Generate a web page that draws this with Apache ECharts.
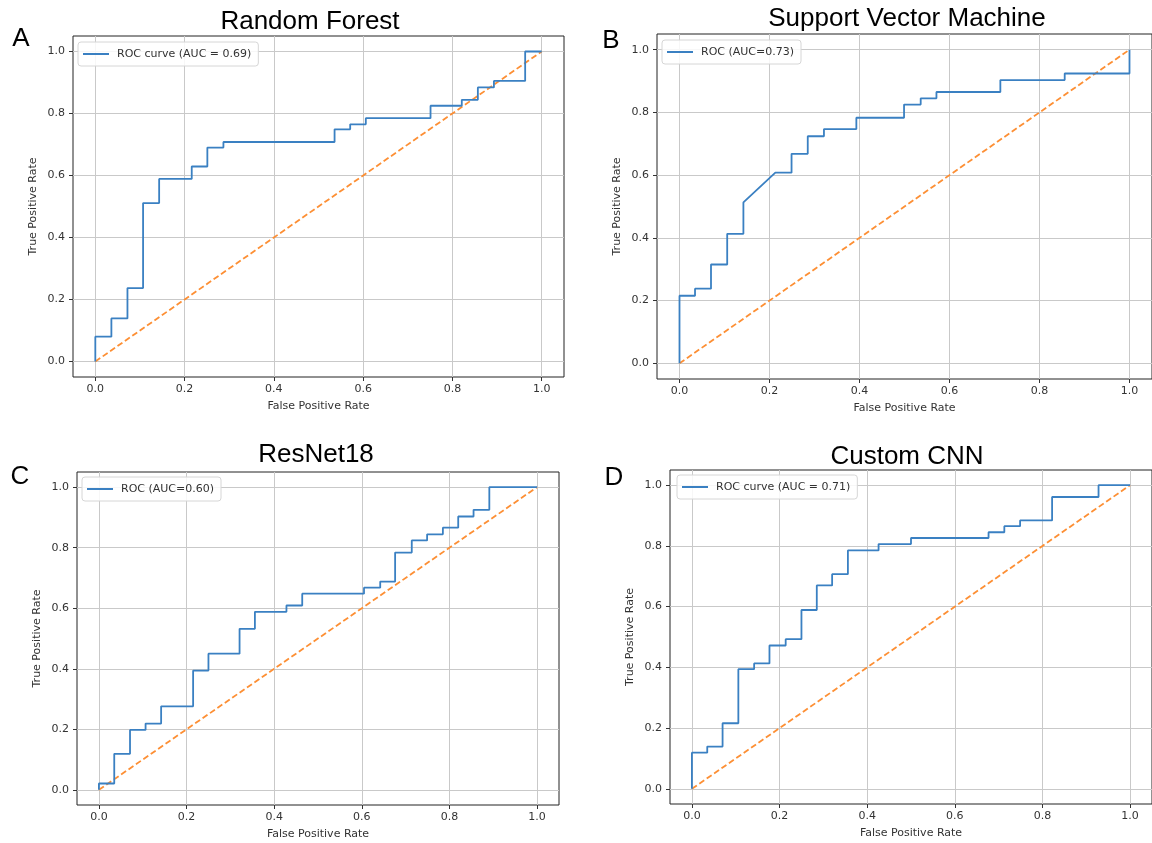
<!DOCTYPE html>
<html>
<head>
<meta charset="utf-8">
<script src="https://cdn.jsdelivr.net/npm/echarts@6/dist/echarts.min.js"></script>
<style>
  html, body { margin: 0; padding: 0; background: #fff; }
  #main { width: 1152px; height: 843px; }
</style>
</head>
<body>
<div id="main"></div>
<script>
// 面板标题
var panelTitles = ['Random Forest', 'Support Vector Machine', 'ResNet18', 'Custom CNN'];
var panelLetters = ['A', 'B', 'C', 'D'];
var legendNames = ['ROC curve (AUC = 0.69)', 'ROC (AUC=0.73)', 'ROC (AUC=0.60)', 'ROC curve (AUC = 0.71)'];
var tickValues = [0, 0.2, 0.4, 0.6, 0.8, 1.0];

// A - Random Forest
var rfFpr = [0, 0, 0.036, 0.036, 0.072, 0.072, 0.107, 0.107, 0.143, 0.143, 0.216, 0.216, 0.251, 0.251, 0.287, 0.287, 0.536, 0.536, 0.571, 0.571, 0.606, 0.606, 0.751, 0.751, 0.821, 0.821, 0.857, 0.857, 0.893, 0.893, 0.963, 0.963, 1.0];
var rfTpr = [0, 0.08, 0.08, 0.139, 0.139, 0.237, 0.237, 0.511, 0.511, 0.589, 0.589, 0.629, 0.629, 0.690, 0.690, 0.708, 0.708, 0.749, 0.749, 0.765, 0.765, 0.785, 0.785, 0.825, 0.825, 0.844, 0.844, 0.884, 0.884, 0.905, 0.905, 1.0, 1.0];

// B - SVM
var svmFpr = [0, 0, 0.0345, 0.0345, 0.070, 0.070, 0.106, 0.106, 0.142, 0.142, 0.213, 0.249, 0.249, 0.285, 0.285, 0.321, 0.321, 0.393, 0.393, 0.499, 0.499, 0.536, 0.536, 0.571, 0.571, 0.713, 0.713, 0.856, 0.856, 1.0, 1.0];
var svmTpr = [0, 0.2155, 0.2155, 0.238, 0.238, 0.315, 0.315, 0.413, 0.413, 0.513, 0.608, 0.608, 0.668, 0.668, 0.724, 0.724, 0.747, 0.747, 0.783, 0.783, 0.825, 0.825, 0.845, 0.845, 0.865, 0.865, 0.903, 0.903, 0.924, 0.924, 1.0];

// C - ResNet18
var resFpr = [0, 0, 0.035, 0.035, 0.071, 0.071, 0.1065, 0.1065, 0.142, 0.142, 0.215, 0.215, 0.25, 0.25, 0.321, 0.321, 0.356, 0.356, 0.428, 0.428, 0.464, 0.464, 0.605, 0.605, 0.642, 0.642, 0.676, 0.676, 0.714, 0.714, 0.749, 0.749, 0.785, 0.785, 0.82, 0.82, 0.855, 0.855, 0.891, 0.891, 1.0];
var resTpr = [0, 0.021, 0.021, 0.119, 0.119, 0.198, 0.198, 0.219, 0.219, 0.276, 0.276, 0.394, 0.394, 0.45, 0.45, 0.532, 0.532, 0.588, 0.588, 0.609, 0.609, 0.648, 0.648, 0.668, 0.668, 0.688, 0.688, 0.784, 0.784, 0.824, 0.824, 0.844, 0.844, 0.866, 0.866, 0.903, 0.903, 0.925, 0.925, 1.0, 1.0];

// D - Custom CNN
var cnnFpr = [0, 0, 0.035, 0.035, 0.07, 0.07, 0.106, 0.106, 0.142, 0.142, 0.177, 0.177, 0.214, 0.214, 0.25, 0.25, 0.285, 0.285, 0.32, 0.32, 0.356, 0.356, 0.426, 0.426, 0.5, 0.5, 0.677, 0.677, 0.713, 0.713, 0.749, 0.749, 0.822, 0.822, 0.928, 0.928, 1.0];
var cnnTpr = [0, 0.119, 0.119, 0.139, 0.139, 0.216, 0.216, 0.394, 0.394, 0.413, 0.413, 0.472, 0.472, 0.493, 0.493, 0.589, 0.589, 0.67, 0.67, 0.707, 0.707, 0.785, 0.785, 0.806, 0.806, 0.826, 0.826, 0.845, 0.845, 0.865, 0.865, 0.884, 0.884, 0.961, 0.961, 1.0, 1.0];

// 对角线
var chanceX = [0, 1];
var chanceY = [0, 1];

var allFpr = [rfFpr, svmFpr, resFpr, cnnFpr];
var allTpr = [rfTpr, svmTpr, resTpr, cnnTpr];

// layout
var grids = [
  { left: 73, top: 36, width: 491, height: 341 },
  { left: 657, top: 34, width: 500, height: 345 },
  { left: 77, top: 472, width: 482, height: 333 },
  { left: 670, top: 470, width: 485, height: 334 }
];
var legendPos = [
  { left: 78, top: 42 },
  { left: 662, top: 40 },
  { left: 82, top: 477 },
  { left: 677, top: 475 }
];
var titlePos = [[310, 22], [907, 19], [316, 455], [907, 457]];
var letterPos = [[21, 39], [611, 41], [20, 477], [614, 478]];

function zip(xs, ys) {
  var out = [];
  for (var i = 0; i < xs.length; i++) out.push([xs[i], ys[i]]);
  return out;
}

var textColor = '#333';
var fontFam = 'DejaVu Sans';
var blue = '#3a80c2';

function makeAxis(gi, name, isY) {
  return {
    gridIndex: gi,
    type: 'value',
    min: -0.05,
    max: 1.05,
    name: name,
    nameLocation: 'middle',
    nameGap: isY ? 34 : 24,
    nameTextStyle: { color: textColor, fontSize: 11, fontFamily: fontFam },
    axisLine: { show: false, onZero: false },
    axisTick: {
      show: true,
      length: 4,
      customValues: tickValues,
      lineStyle: { color: '#333', width: 1 }
    },
    axisLabel: {
      customValues: tickValues,
      margin: isY ? 8 : 7,
      color: textColor,
      fontSize: 11,
      fontFamily: fontFam,
      formatter: function (v) { return v.toFixed(1); }
    },
    splitLine: { show: true, lineStyle: { color: '#c9c9c9', width: 1 } }
  };
}

var option = {
  animation: false,
  backgroundColor: '#fff',
  grid: [],
  xAxis: [],
  yAxis: [],
  legend: [],
  series: [],
  graphic: []
};

for (var i = 0; i < 4; i++) {
  var g = grids[i];
  option.grid.push({
    left: g.left, top: g.top, width: g.width, height: g.height,
    show: true, borderColor: '#222', borderWidth: 1, backgroundColor: 'transparent'
  });
  option.xAxis.push(makeAxis(i, 'False Positive Rate', false));
  option.yAxis.push(makeAxis(i, 'True Positive Rate', true));

  option.series.push({
    name: legendNames[i],
    type: 'line',
    xAxisIndex: i,
    yAxisIndex: i,
    symbol: 'none',
    z: 3,
    lineStyle: { color: blue, width: 1.8 },
    itemStyle: { color: blue },
    data: zip(allFpr[i], allTpr[i])
  });
  option.series.push({
    name: 'chance' + i,
    type: 'line',
    xAxisIndex: i,
    yAxisIndex: i,
    symbol: 'none',
    z: 2,
    lineStyle: { color: '#fd8f34', width: 1.8, type: [6, 3] },
    data: zip(chanceX, chanceY)
  });

  option.legend.push({
    data: [legendNames[i]],
    left: legendPos[i].left,
    top: legendPos[i].top,
    orient: 'vertical',
    padding: [6, 7, 6, 5],
    icon: 'rect',
    itemWidth: 26,
    itemHeight: 2,
    itemStyle: { color: blue },
    borderColor: '#d6d6d6',
    borderWidth: 1,
    borderRadius: 3,
    backgroundColor: 'rgba(255,255,255,0.85)',
    textStyle: { color: textColor, fontSize: 11, fontFamily: fontFam, padding: [0, 0, 0, 3], lineHeight: 12 }
  });

  option.graphic.push({
    type: 'text',
    x: titlePos[i][0],
    y: titlePos[i][1],
    style: {
      text: panelTitles[i],
      fontSize: 26,
      fontFamily: 'Liberation Sans',
      fill: '#000',
      align: 'center',
      verticalAlign: 'middle'
    }
  });
  option.graphic.push({
    type: 'text',
    x: letterPos[i][0],
    y: letterPos[i][1],
    style: {
      text: panelLetters[i],
      fontSize: 26,
      fontFamily: 'Liberation Sans',
      fill: '#000',
      align: 'center',
      verticalAlign: 'middle'
    }
  });
}

var chart = echarts.init(document.getElementById('main'));
chart.setOption(option);
</script>
</body>
</html>
